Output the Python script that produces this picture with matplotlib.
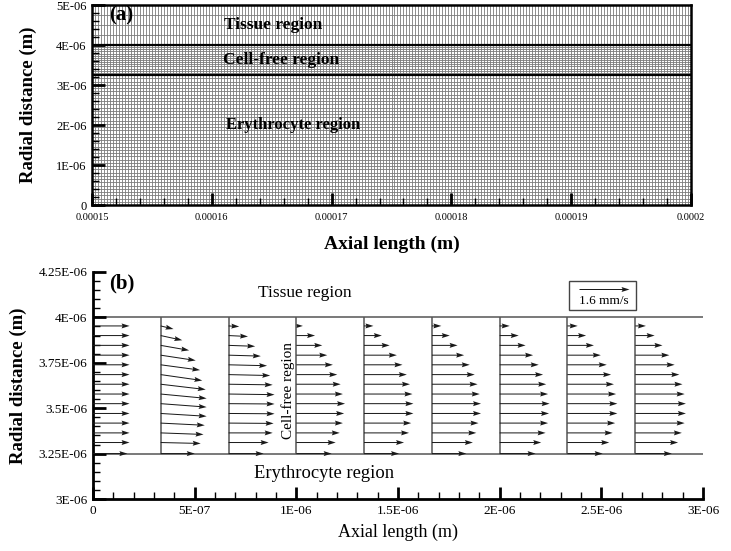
import numpy as np
import matplotlib
matplotlib.use("Agg")
import matplotlib.pyplot as plt
from matplotlib.patches import Rectangle

plt.rcParams['font.family'] = ['Liberation Serif', 'DejaVu Serif']

# ---------------- data: panel (a) mesh ----------------
a_xlim = (0.00015, 0.0002)
a_ylim = (0.0, 5e-6)
a_xticks = [0.00015, 0.00016, 0.00017, 0.00018, 0.00019, 0.0002]
a_xticklabels = ["0.00015", "0.00016", "0.00017", "0.00018", "0.00019", "0.0002"]
a_yticks = [0, 1e-6, 2e-6, 3e-6, 4e-6, 5e-6]
a_yticklabels = ["0", "1E-06", "2E-06", "3E-06", "4E-06", "5E-06"]
interfaces = [3.25e-6, 4e-6]
axial_cell = 0.25e-6
n_cells_erythrocyte = 40
n_cells_cellfree = 14
n_cells_tissue = 4

# ---------------- data: panel (b) velocity vectors ----------------
b_xlim = (0.0, 3e-6)
b_ylim = (3e-6, 4.25e-6)
b_xticks = [0, 5e-7, 1e-6, 1.5e-6, 2e-6, 2.5e-6, 3e-6]
b_xticklabels = ["0", "5E-07", "1E-06", "1.5E-06", "2E-06", "2.5E-06", "3E-06"]
b_yticks = [3e-6, 3.25e-6, 3.5e-6, 3.75e-6, 4e-6, 4.25e-6]
b_yticklabels = ["3E-06", "3.25E-06", "3.5E-06", "3.75E-06", "4E-06", "4.25E-06"]

# column start positions (axial, m)
column_x = [0.0, 0.333e-6, 0.667e-6, 1.0e-6, 1.333e-6, 1.667e-6, 2.0e-6, 2.333e-6, 2.667e-6]
# radial positions of the vectors (top to bottom, m)
row_r = [3.953e-6, 3.900e-6, 3.846e-6, 3.792e-6, 3.739e-6, 3.685e-6, 3.632e-6,
         3.578e-6, 3.525e-6, 3.471e-6, 3.418e-6, 3.364e-6, 3.311e-6, 3.25e-6]

# axial velocity (mm/s), one list per column, top row first
u_col1 = [1.17, 1.17, 1.17, 1.17, 1.17, 1.17, 1.17, 1.17, 1.17, 1.17, 1.17, 1.17, 1.17, 1.10]
u_col2 = [0.41, 0.69, 0.91, 1.12, 1.26, 1.33, 1.44, 1.47, 1.47, 1.47, 1.41, 1.37, 1.28, 1.09]
u_col3 = [0.34, 0.62, 0.85, 1.03, 1.23, 1.33, 1.41, 1.47, 1.47, 1.47, 1.44, 1.41, 1.28, 1.12]
u_col4 = [0.21, 0.60, 0.83, 0.99, 1.17, 1.31, 1.42, 1.49, 1.56, 1.53, 1.49, 1.39, 1.26, 1.13]
u_col5 = [0.30, 0.57, 0.82, 1.05, 1.23, 1.37, 1.47, 1.55, 1.58, 1.58, 1.51, 1.44, 1.28, 1.12]
u_col6 = [0.30, 0.57, 0.82, 1.03, 1.21, 1.37, 1.46, 1.53, 1.57, 1.57, 1.49, 1.42, 1.31, 1.10]
u_col7 = [0.32, 0.61, 0.83, 1.07, 1.25, 1.39, 1.49, 1.55, 1.60, 1.58, 1.55, 1.47, 1.33, 1.15]
u_col8 = [0.33, 0.60, 0.85, 1.07, 1.26, 1.40, 1.49, 1.56, 1.60, 1.60, 1.53, 1.45, 1.34, 1.13]
u_col9 = [0.34, 0.62, 0.87, 1.09, 1.26, 1.41, 1.51, 1.58, 1.62, 1.62, 1.58, 1.49, 1.37, 1.17]

# radial velocity (mm/s), top row first
v_col1 = [0.0] * 14
v_col2 = [-0.10, -0.15, -0.16, -0.17, -0.17, -0.19, -0.17, -0.14, -0.11, -0.09, -0.07, -0.05, -0.03, 0.0]
v_col3 = [-0.02, -0.03, -0.03, -0.03, -0.03, -0.03, -0.02, -0.02, -0.01, -0.01, -0.01, 0.0, 0.0, 0.0]
v_col4 = [0.0] * 14
v_col5 = [0.0] * 14
v_col6 = [0.0] * 14
v_col7 = [0.0] * 14
v_col8 = [0.0] * 14
v_col9 = [0.0] * 14

u_cols = [u_col1, u_col2, u_col3, u_col4, u_col5, u_col6, u_col7, u_col8, u_col9]
v_cols = [v_col1, v_col2, v_col3, v_col4, v_col5, v_col6, v_col7, v_col8, v_col9]
key_speed = 1.6  # mm/s

# ---------------- figure ----------------
fig = plt.figure(figsize=(7.31, 5.51), dpi=100)
axA = fig.add_axes([92/731, 1-205/551, 599/731, 200/551])
axB = fig.add_axes([93/731, 1-499/551, 610/731, 227/551])

# ---- panel (a)
xv = np.arange(a_xlim[0], a_xlim[1] + axial_cell/2, axial_cell)
r_ery = np.linspace(0, interfaces[0], n_cells_erythrocyte + 1)
r_cf = np.linspace(interfaces[0], interfaces[1], n_cells_cellfree + 1)
r_ti = np.linspace(interfaces[1], a_ylim[1], n_cells_tissue + 1)
r_all = np.concatenate([r_ery, r_cf, r_ti])
axA.vlines(xv, a_ylim[0], a_ylim[1], color='#7a7a7a', lw=0.6, zorder=1)
axA.hlines(r_all, a_xlim[0], a_xlim[1], color='#7a7a7a', lw=0.6, zorder=1)
axA.hlines(interfaces, a_xlim[0], a_xlim[1], color='black', lw=1.6, zorder=2)
axA.set_xlim(*a_xlim)
axA.set_ylim(*a_ylim)
axA.set_xticks(a_xticks)
axA.set_xticklabels(a_xticklabels)
axA.set_yticks(a_yticks)
axA.set_yticklabels(a_yticklabels)
axA.set_xticks(np.arange(a_xlim[0], a_xlim[1], 2e-6), minor=True)
axA.set_yticks(np.arange(0, 5e-6, 0.2e-6), minor=True)
for sp in axA.spines.values():
    sp.set_linewidth(1.8)
axA.tick_params(which='major', direction='in', length=9, width=2, pad=4)
axA.tick_params(axis='x', which='major', labelsize=7.5, pad=6)
axA.tick_params(axis='y', which='major', labelsize=9)
axA.tick_params(which='minor', direction='in', length=5, width=1)
axA.tick_params(top=False, right=False, which='both')
axA.set_xlabel("Axial length (m)", fontsize=14, fontweight='bold')
axA.xaxis.set_label_coords(0.5, -0.155)
axA.set_ylabel("Radial distance (m)", fontsize=13.5, fontweight='bold')
axA.yaxis.set_label_coords(-0.091, 0.5)

axA.text(0.0001514, 4.75e-6, "(a)", fontsize=15, fontweight='bold', va='center', ha='left', zorder=5)
axA.text(0.0001610, 4.5e-6, "Tissue region", fontsize=12.5, fontweight='bold', va='center', ha='left', zorder=5)
axA.text(0.0001609, 3.625e-6, "Cell-free region", fontsize=12.5, fontweight='bold', va='center', ha='left', zorder=5)
axA.text(0.0001612, 2.0e-6, "Erythrocyte region", fontsize=12, fontweight='bold', va='center', ha='left', zorder=5)

# ---- panel (b)
axB.set_xlim(*b_xlim)
axB.set_ylim(*b_ylim)
axB.spines['top'].set_visible(False)
axB.spines['right'].set_visible(False)
axB.spines['left'].set_linewidth(2)
axB.spines['bottom'].set_linewidth(2)
axB.hlines(interfaces, b_xlim[0], b_xlim[1], color='#555555', lw=1.1, zorder=1)
axB.vlines(column_x[1:], interfaces[0], interfaces[1], color='#555555', lw=1.1, zorder=1)

X = np.repeat(column_x, len(row_r))
Y = np.tile(row_r, len(column_x))
U = np.concatenate(u_cols)
V = np.concatenate(v_cols)
Q = axB.quiver(X, Y, U, V, angles='uv', scale_units='dots', scale=1/31.25,
               units='dots', width=1.0, headwidth=5, headlength=8,
               headaxislength=7, color='#1a1a1a', zorder=3)

axB.set_xticks(b_xticks)
axB.set_xticklabels(b_xticklabels)
axB.set_yticks(b_yticks)
axB.set_yticklabels(b_yticklabels)
axB.set_xticks(np.arange(0, 3e-6, 1e-7), minor=True)
axB.set_yticks(np.arange(3e-6, 4.25e-6, 0.05e-6), minor=True)
axB.tick_params(which='major', direction='in', length=9, width=2, labelsize=9.5, pad=4)
axB.tick_params(which='minor', direction='in', length=5, width=1)
axB.set_xlabel("Axial length (m)", fontsize=13)
axB.xaxis.set_label_coords(0.5, -0.11)
axB.set_ylabel("Radial distance (m)", fontsize=13.5, fontweight='bold')
axB.yaxis.set_label_coords(-0.108, 0.5)

axB.text(0.08e-6, 4.188e-6, "(b)", fontsize=15, fontweight='bold', va='center', ha='left')
axB.text(0.812e-6, 4.134e-6, "Tissue region", fontsize=12.5, va='center', ha='left')
axB.text(0.792e-6, 3.141e-6, "Erythrocyte region", fontsize=13.3, va='center', ha='left')
axB.text(0.958e-6, 3.60e-6, "Cell-free region", fontsize=11, va='center', ha='center', rotation=90)

axB.add_patch(Rectangle((2.341e-6, 4.041e-6), 0.33e-6, 0.161e-6, fill=False,
                        edgecolor='#444444', lw=1.0))
axB.quiverkey(Q, 2.513e-6, 4.155e-6, key_speed, "1.6 mm/s", coordinates='data',
              labelpos='S', labelsep=0.06, fontproperties={'size': 9.5}, color='#1a1a1a')

fig.savefig("out.png", dpi=100)
